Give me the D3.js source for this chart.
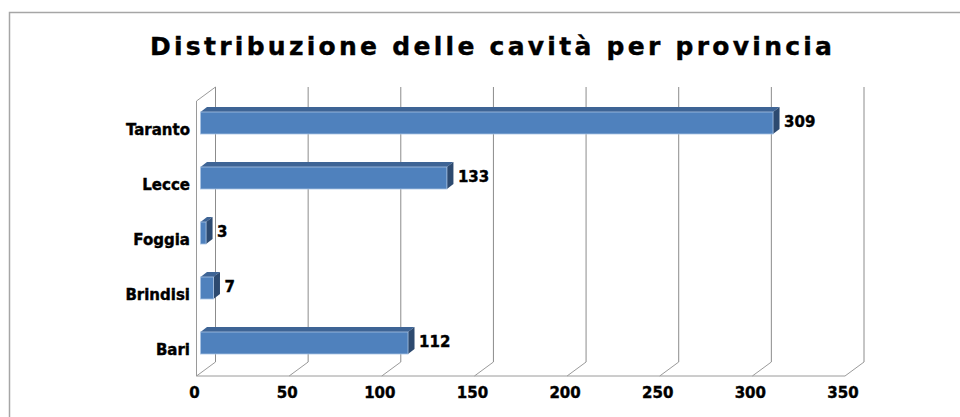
<!DOCTYPE html>
<html>
<head>
<meta charset="utf-8">
<script src="https://cdn.jsdelivr.net/npm/d3@7"></script>
<style>
  body { margin: 0; background: #fff; }
  text { font-family: "DejaVu Sans", sans-serif; font-weight: bold; fill: #000; stroke: #000; stroke-width: 0.4px; }
</style>
</head>
<body>
<div id="chart-area"></div>
<script>
var categories = ["Taranto", "Lecce", "Foggia", "Brindisi", "Bari"];
var values = [309, 133, 3, 7, 112];
var xTicks = [0, 50, 100, 150, 200, 250, 300, 350];

var width = 960, height = 417;

// depth of the 3d box and of the bars
var depth = { dx: 19, dy: -14 };
var barShift = { dx: 4, dy: -5.5 };
var barDepth = { dx: 6.5, dy: -5 };

var svg = d3.select("#chart-area").append("svg")
  .attr("width", width)
  .attr("height", height);

// outer frame
svg.append("rect")
  .attr("x", 9.5).attr("y", 12.5)
  .attr("width", 970).attr("height", 420)
  .attr("fill", "none")
  .attr("stroke", "#a6a6a6")
  .attr("stroke-width", 1.5);

// title
svg.append("text")
  .attr("x", 150).attr("y", 55)
  .attr("font-size", "25px")
  .attr("stroke-width", 0.7)
  .attr("textLength", 682)
  .attr("lengthAdjust", "spacing")
  .text("Distribuzione delle cavità per provincia");

// X Scale (front plane)
var x = d3.scaleLinear()
  .domain([0, 350])
  .range([196.5, 845]);

// Y Scale (front plane)
var y = d3.scaleBand()
  .domain(categories)
  .range([101, 376])
  .paddingInner(0.6)
  .paddingOuter(0.3);

var yTop = 101, yBottom = 376;

var grid = svg.append("g");

// back wall gridlines
grid.selectAll(".grid")
  .data(xTicks)
  .enter().append("line")
    .attr("x1", function(d) { return x(d) + depth.dx; })
    .attr("x2", function(d) { return x(d) + depth.dx; })
    .attr("y1", yTop + depth.dy)
    .attr("y2", yBottom + depth.dy)
    .attr("stroke", "#8c8c8c");

// floor diagonals
grid.selectAll(".floor")
  .data(xTicks)
  .enter().append("line")
    .attr("x1", function(d) { return x(d); })
    .attr("x2", function(d) { return x(d) + depth.dx; })
    .attr("y1", yBottom)
    .attr("y2", yBottom + depth.dy)
    .attr("stroke", "#9a9a9a");

// floor front edge
grid.append("line")
  .attr("x1", x(0)).attr("x2", x(350))
  .attr("y1", yBottom).attr("y2", yBottom)
  .attr("stroke", "#9a9a9a");

// left wall
grid.append("line")
  .attr("x1", x(0)).attr("x2", x(0))
  .attr("y1", yTop).attr("y2", yBottom)
  .attr("stroke", "#9a9a9a");
grid.append("line")
  .attr("x1", x(0)).attr("x2", x(0) + depth.dx)
  .attr("y1", yTop).attr("y2", yTop + depth.dy)
  .attr("stroke", "#9a9a9a");

// X axis labels
svg.selectAll(".xlabel")
  .data(xTicks)
  .enter().append("text")
    .attr("x", function(d) { return x(d) - 2; })
    .attr("y", 398)
    .attr("font-size", "15px")
    .attr("text-anchor", "middle")
    .text(function(d) { return d; });

// category labels
svg.selectAll(".ylabel")
  .data(categories)
  .enter().append("text")
    .attr("x", 190)
    .attr("y", function(d) { return y(d) + y.bandwidth() / 2 + 6; })
    .attr("font-size", "15px")
    .attr("text-anchor", "end")
    .text(function(d) { return d; });

// bars
var data = categories.map(function(c, i) { return { name: c, value: values[i] }; });

var bars = svg.selectAll(".bar")
  .data(data)
  .enter().append("g");

function bx(v) { return x(v) + barShift.dx; }
function by(name) { return y(name) + barShift.dy; }

// top face
bars.append("path")
  .attr("fill", "#3e6495")
  .attr("d", function(d) {
    var x0 = bx(0), x1 = bx(d.value), y0 = by(d.name);
    return "M" + x0 + "," + y0 + "L" + x1 + "," + y0 +
      "L" + (x1 + barDepth.dx) + "," + (y0 + barDepth.dy) +
      "L" + (x0 + barDepth.dx) + "," + (y0 + barDepth.dy) + "Z";
  });

// right face
bars.append("path")
  .attr("fill", "#2d4a70")
  .attr("d", function(d) {
    var x1 = bx(d.value), y0 = by(d.name), y1 = y0 + y.bandwidth();
    return "M" + x1 + "," + y0 +
      "L" + (x1 + barDepth.dx) + "," + (y0 + barDepth.dy) +
      "L" + (x1 + barDepth.dx) + "," + (y1 + barDepth.dy) +
      "L" + x1 + "," + y1 + "Z";
  });

// front face
bars.append("rect")
  .attr("x", function(d) { return bx(0); })
  .attr("y", function(d) { return by(d.name); })
  .attr("width", function(d) { return bx(d.value) - bx(0); })
  .attr("height", y.bandwidth())
  .attr("fill", "#4f81bd")
  .attr("stroke", "#a9c3e3")
  .attr("stroke-width", 0.8);

// value labels
bars.append("text")
  .attr("x", function(d) { return bx(d.value) + 11; })
  .attr("y", function(d) { return by(d.name) + y.bandwidth() / 2 + 3.5; })
  .attr("font-size", "15px")
  .text(function(d) { return d.value; });
</script>
</body>
</html>
